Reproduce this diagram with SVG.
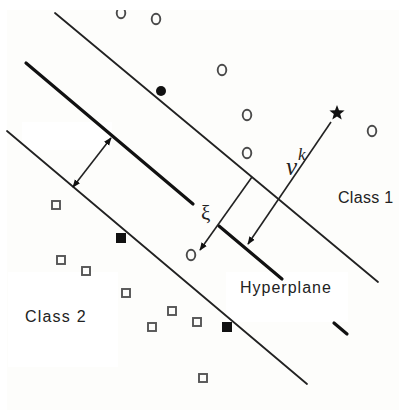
<svg xmlns="http://www.w3.org/2000/svg" width="399" height="410" viewBox="0 0 399 410">
<style>
.ln{stroke:#222;stroke-width:1.8;fill:none;stroke-linecap:round}
.hp{stroke:#111;stroke-width:3.2;fill:none;stroke-linecap:round}
.ar{stroke:#222;stroke-width:1.6;fill:none}
.c{fill:none;stroke:#4a4a4a;stroke-width:1.9}
.s{fill:none;stroke:#555;stroke-width:1.9}
.f{fill:#111}
.lab{font-family:"Liberation Sans",Arial,sans-serif;font-size:16px;fill:#222}
.sym{font-family:"Liberation Serif","Times New Roman",serif;fill:#222}
</style>
<defs>
<marker id="ah" viewBox="0 0 10 10" refX="9" refY="5" markerWidth="8" markerHeight="8" markerUnits="userSpaceOnUse" orient="auto-start-reverse">
<path d="M0,1 L10,5 L0,9 z" fill="#111"/>
</marker>
</defs>
<rect width="399" height="410" fill="#fff"/>
<rect x="7" y="10" width="392" height="400" fill="#fdfdfb"/>
<rect x="22" y="122" width="90" height="28" fill="#fff"/>
<rect x="8" y="272" width="110" height="95" fill="#fff"/>
<rect x="226" y="272" width="122" height="50" fill="#fff"/>
<g id="connectors">
<line class="ln" x1="55" y1="13" x2="378" y2="282"/>
<line class="ln" x1="7" y1="131" x2="307" y2="384"/>
<line class="hp" x1="26" y1="63" x2="193" y2="204"/>
<line class="hp" x1="219" y1="226" x2="282" y2="279"/>
<line class="hp" x1="334" y1="323" x2="347" y2="334"/>
<line class="ar" x1="73" y1="187" x2="111" y2="138" marker-start="url(#ah)" marker-end="url(#ah)"/>
<line class="ar" x1="331" y1="122" x2="248" y2="244" marker-end="url(#ah)"/>
<line class="ar" x1="252" y1="177" x2="200" y2="250" marker-end="url(#ah)"/>
</g>
<g id="class1">
<ellipse class="c" cx="121" cy="13" rx="4.3" ry="5.2"/>
<ellipse class="c" cx="156" cy="19" rx="4.3" ry="5.2"/>
<ellipse class="c" cx="222" cy="70" rx="4.3" ry="5.2"/>
<ellipse class="c" cx="247" cy="115" rx="4.3" ry="5.2"/>
<ellipse class="c" cx="247" cy="153" rx="4.3" ry="5.2"/>
<ellipse class="c" cx="372" cy="131" rx="4.3" ry="5.2"/>
<ellipse class="c" cx="191" cy="255" rx="4.3" ry="5.2"/>
<circle class="f" cx="161" cy="91" r="5"/>
<polygon class="f" points="337,105 339,110.2 344.6,110.5 340.2,114.1 341.7,119.5 337,116.4 332.3,119.5 333.8,114.1 329.4,110.5 335,110.2"/>
</g>
<rect x="8" y="0" width="391" height="10" fill="#fff"/>
<g id="class2">
<rect class="s" x="52" y="201" width="8" height="8"/>
<rect class="f" x="116" y="233" width="10" height="10"/>
<rect class="s" x="57" y="256" width="8" height="8"/>
<rect class="s" x="82" y="267" width="8" height="8"/>
<rect class="s" x="122" y="289" width="8" height="8"/>
<rect class="s" x="168" y="307" width="8" height="8"/>
<rect class="s" x="148" y="323" width="8" height="8"/>
<rect class="s" x="193" y="318" width="8" height="8"/>
<rect class="f" x="222" y="322" width="10" height="10"/>
<rect class="s" x="199" y="374" width="8" height="8"/>
</g>
<g id="labels">
<text class="lab" x="338" y="203" letter-spacing="0.3">Class 1</text>
<text class="lab" x="25" y="322" letter-spacing="1.2">Class 2</text>
<text class="lab" x="240" y="293" letter-spacing="1">Hyperplane</text>
<text class="sym" x="286" y="175" font-size="25" font-style="italic">v</text>
<text class="sym" x="298" y="160" font-size="17" font-style="italic">k</text>
<text class="sym" x="201" y="220" font-size="21">ξ</text>
</g>
</svg>
